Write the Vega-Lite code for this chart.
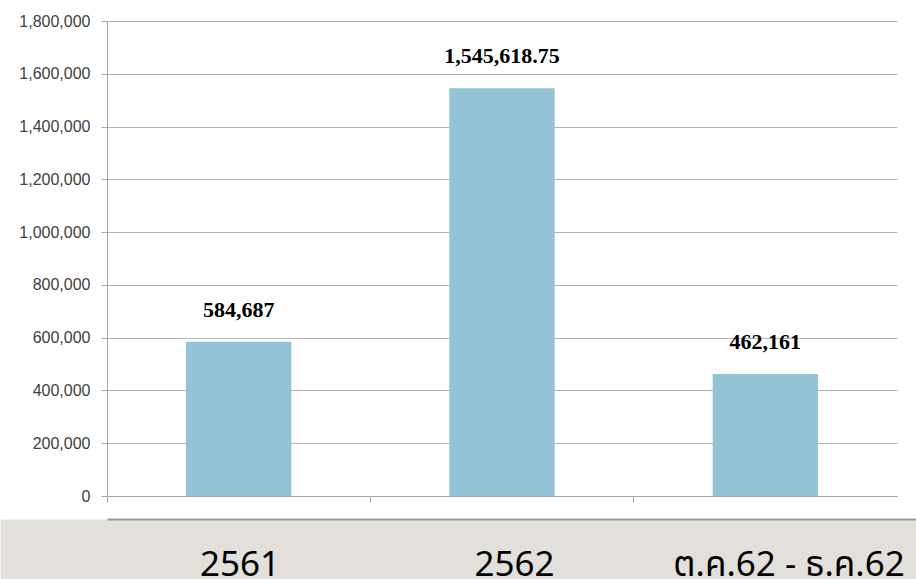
{
  "$schema": "https://vega.github.io/schema/vega-lite/v6.json",
  "padding": {"top": 13, "left": 0, "right": 0, "bottom": 0},
  "background": "white",
  "spacing": 15,
  "config": {"view": {"stroke": null}, "font": "Liberation Sans"},
  "data": {
    "values": [
      {"period": "2561", "value": 584687},
      {"period": "2562", "value": 1545618.75},
      {"period": "ต.ค.62 - ธ.ค.62", "value": 462161}
    ]
  },
  "vconcat": [
    {
      "width": 790,
      "height": 475,
      "encoding": {
        "x": {
          "field": "period",
          "type": "nominal",
          "sort": null,
          "scale": {"paddingInner": 0.6, "paddingOuter": 0.3},
          "axis": {
            "title": null,
            "labels": false,
            "bandPosition": -0.75,
            "tickSize": 6,
            "domainColor": "#a6a6a6",
            "tickColor": "#a6a6a6",
            "grid": false
          }
        },
        "y": {
          "field": "value",
          "type": "quantitative",
          "scale": {"domain": [0, 1800000], "nice": false},
          "axis": {
            "title": null,
            "values": [0, 200000, 400000, 600000, 800000, 1000000, 1200000, 1400000, 1600000, 1800000],
            "format": ",d",
            "labelFontSize": 16,
            "labelColor": "#404040",
            "labelPadding": 11,
            "tickSize": 6,
            "gridColor": "#b3b3b3",
            "domainColor": "#a6a6a6",
            "tickColor": "#a6a6a6",
            "minExtent": 107,
            "maxExtent": 107
          }
        }
      },
      "layer": [
        {"mark": {"type": "bar", "color": "#93c3d5"}},
        {
          "mark": {
            "type": "text",
            "font": "Liberation Serif",
            "fontWeight": "bold",
            "fontSize": 22,
            "dy": -25,
            "baseline": "alphabetic",
            "color": "black"
          },
          "encoding": {"text": {"field": "value", "type": "quantitative", "format": ","}}
        }
      ]
    },
    {
      "width": 809,
      "height": 60,
      "view": {"fill": "#e3e0dc", "stroke": null},
      "mark": {
        "type": "text",
        "font": "Noto Sans, Noto Sans Thai, DejaVu Sans, sans-serif",
        "fontSize": 35,
        "baseline": "alphabetic",
        "dy": -3,
        "color": "black"
      },
      "encoding": {
        "x": {
          "field": "period",
          "type": "nominal",
          "sort": null,
          "scale": {"type": "point", "padding": 0.4736, "align": 0.5115},
          "axis": {
            "orient": "top",
            "title": null,
            "labels": false,
            "ticks": false,
            "grid": false,
            "zindex": 1,
            "domainColor": "#9a9a9a",
            "domainWidth": 2
          }
        },
        "y": {
          "datum": 0,
          "type": "quantitative",
          "scale": {"domain": [0, 1], "nice": false},
          "axis": {
            "title": null,
            "labels": false,
            "grid": false,
            "zindex": 0,
            "values": [1.0167],
            "tickSize": 106,
            "tickWidth": 2,
            "tickColor": "#9a9a9a",
            "domainColor": "#e3e0dc",
            "domainWidth": 214
          }
        },
        "text": {"field": "period"}
      }
    }
  ],
  "resolve": {"scale": {"x": "independent", "y": "independent"}}
}
